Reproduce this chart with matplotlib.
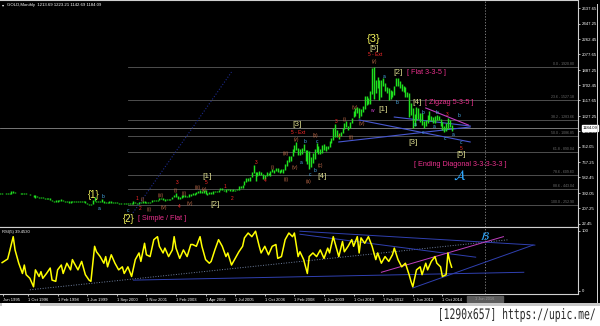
import matplotlib
matplotlib.use('Agg')
import matplotlib.pyplot as plt
from matplotlib.patches import Rectangle, PathPatch
from matplotlib.textpath import TextPath
from matplotlib.transforms import Affine2D
from matplotlib.font_manager import FontProperties

# ---- data, one entry per monthly bar ----
highs = [
    395, 390, 390, 387, 392, 389, 390,                                  # 1995
    418, 416, 401, 398, 394, 391, 388, 390, 388, 386, 383, 373,         # 1996
    368, 365, 356, 348, 348, 346, 337, 331, 333, 334, 313, 299,         # 1997
    310, 305, 304, 316, 306, 300, 298, 293, 301, 300, 298, 296,         # 1998
    294, 290, 290, 291, 290, 266, 263, 259, 302, 339, 300, 293,         # 1999
    292, 315, 296, 289, 279, 294, 292, 281, 280, 279, 274, 270, 275,    # 2000
    272, 268, 268, 266, 266, 294, 278, 274, 279, 283, 294, 293, 282, 280,
    288, 304, 304, 306, 311, 327, 332, 328, 316, 326, 325, 323, 349,
    370, 389, 353, 340, 372, 368, 372, 362, 376, 380, 391, 393, 400, 417,
    428, 418, 430, 429, 396, 403, 409, 416, 419, 420, 431, 456, 456,
    430, 439, 445, 437, 432, 442, 431, 447, 474, 478, 496, 539,
    572, 574, 587, 654, 730, 643, 650, 663, 649, 628, 606, 651, 641,
    657, 689, 672, 695, 692, 668, 682, 679, 747, 795, 845, 842,         # 2007
    932, 976, 1011, 935, 931, 941, 987, 917, 912, 907, 825, 882,        # 2008
    931, 1006, 964, 925, 980, 989, 960, 965, 1023, 1061, 1182, 1226,    # 2009
    1162, 1127, 1134, 1180, 1249, 1265, 1213, 1250, 1310, 1387, 1424, 1432,
    1424, 1412, 1447, 1575, 1577, 1552, 1632, 1913, 1920, 1764, 1804, 1764,
    1764, 1790, 1726, 1676, 1667, 1642, 1631, 1692, 1788, 1796, 1755, 1723,
    1695, 1683, 1617, 1603, 1488, 1424, 1348, 1434, 1424, 1361, 1362, 1267,
    1280, 1345, 1392, 1331, 1315, 1332, 1345, 1323, 1287, 1255, 1207, 1238,
    1307, 1283, 1223.21,
]
lows = [
    383, 381, 379, 381, 381, 382, 385,
    387, 398, 394, 389, 389, 380, 380, 385, 378, 378, 370, 366,
    343, 338, 346, 338, 337, 334, 318, 320, 320, 305, 293, 283,
    278, 289, 292, 299, 292, 288, 287, 272, 273, 289, 289, 284,
    283, 282, 278, 278, 267, 256, 252, 251, 254, 296, 288, 280,
    280, 283, 276, 273, 269, 272, 276, 270, 272, 270, 263, 264, 267,
    262, 255, 255, 255, 258, 261, 266, 264, 265, 270, 271, 276, 272, 271,
    277, 281, 290, 293, 299, 307, 315, 302, 301, 310, 311, 314, 316,
    342, 344, 323, 319, 334, 340, 342, 341, 350, 358, 370, 370, 375, 398,
    399, 391, 393, 380, 373, 386, 387, 386, 400, 405, 410, 424, 426,
    418, 411, 425, 421, 415, 414, 418, 428, 433, 458, 457, 487,
    523, 539, 537, 582, 642, 543, 600, 608, 609, 561, 560, 603, 609,
    603, 647, 636, 662, 651, 641, 643, 641, 670, 722, 775, 782,
    844, 889, 913, 857, 850, 865, 905, 787, 741, 681, 704, 760,
    802, 888, 866, 866, 883, 916, 906, 931, 947, 1003, 1043, 1075,
    1075, 1045, 1087, 1117, 1165, 1196, 1155, 1186, 1242, 1316, 1330, 1360,
    1308, 1323, 1381, 1418, 1462, 1477, 1480, 1600, 1535, 1604, 1668, 1523,
    1562, 1692, 1628, 1614, 1527, 1540, 1564, 1588, 1690, 1697, 1672, 1635,
    1626, 1555, 1562, 1321, 1338, 1180, 1208, 1275, 1293, 1251, 1221, 1186,
    1202, 1240, 1277, 1268, 1240, 1240, 1281, 1280, 1204, 1161, 1131, 1142,
    1167, 1192, 1142.69,
]
last_close = 1184.09

rsi_bar = [2, 5, 6, 8, 9, 11, 13, 14, 15, 17, 19, 20, 22, 23, 24, 26, 28, 29, 31, 32,
           34, 35, 37, 39, 40, 41, 43, 45, 47, 49, 50, 52, 53, 55, 57, 58, 59, 61, 63, 65,
           67, 68, 70, 72, 74, 76, 77, 79, 80, 82, 84, 86, 87, 89, 90, 92, 94, 95, 96, 98,
           100, 102, 104, 105, 107, 109, 110, 112, 114, 115, 117, 119, 121, 123, 124, 126,
           128, 130, 132, 133, 135, 137, 139, 141, 142, 144, 146, 148, 150, 151, 153, 155,
           157, 159, 160, 162, 163, 165, 167, 168, 170, 172, 174, 176, 178, 179, 181, 183,
           184, 186, 187, 189, 191, 192, 194, 195, 196, 198, 200, 202, 204, 205, 207, 209,
           211, 213, 214, 216, 218, 220, 222, 223, 224, 226, 228, 229, 231, 232, 234, 236,
           237, 239, 240, 242, 243, 244, 245]
rsi_val = [47, 53, 65, 90, 68, 46, 29, 43, 27, 21, 7, 35, 24, 32, 21, 29, 38, 18, 16, 35,
           43, 29, 46, 35, 52, 46, 35, 49, 27, 18, 16, 74, 65, 57, 46, 57, 40, 60, 46, 35,
           40, 29, 40, 24, 52, 63, 49, 79, 60, 57, 85, 90, 74, 63, 71, 57, 68, 90, 71, 54,
           68, 57, 77, 77, 74, 90, 74, 52, 46, 49, 68, 85, 74, 57, 63, 43,
           54, 65, 74, 88, 96, 90, 99, 74, 63, 74, 60, 74, 77, 54, 57, 85,
           96, 90, 96, 57, 65, 52, 29, 57, 63, 57, 68, 54, 71, 63, 90, 68,
           57, 82, 65, 74, 85, 74, 90, 63, 88, 79, 90, 74, 52, 63, 46, 57,
           49, 60, 71, 52, 40, 46, 27, 16, 7, 35, 40, 27, 46, 35, 49, 57,
           46, 40, 24, 27, 63, 49, 39.45]

date_labels = ['Jun 1995', '1 Oct 1996', '1 Feb 1998', '1 Jun 1999', '1 Sep 2000',
               '1 Nov 2001', '1 Feb 2003', '1 Apr 2004', '1 Jul 2005', '1 Oct 2006',
               '1 Feb 2008', '1 Jun 2009', '1 Oct 2010', '1 Feb 2012', '1 Jun 2013',
               '1 Oct 2014']
price_ticks = [2637.65, 2447.25, 2262.45, 2077.65, 1887.25, 1702.45, 1517.65, 1327.25,
               1142.45, 952.05, 767.25, 582.45, 392.05, 207.25, 22.45]

fib_levels = [0.0, 23.6, 38.2, 50.0, 61.8, 78.6, 88.6, 100.0]
fib_high, fib_low = 1920.80, 252.90
fib_start_bar = 70

# trendlines drawn on the chart: (bar0, value0, bar1, value1)
price_lines = [
    (70, 65, 126, 1863, '#1c2a8c', ':'),
    (184, 1013, 255, 1195, '#4858d0', '-'),
    (195, 1280, 255, 1013, '#4858d0', '-'),
    (214, 1316, 255, 1207, '#4858d0', '-'),
    (231, 1426, 254, 1219, '#c040c0', '-'),
]
rsi_lines = [
    (17, 2, 276, 85, '#7080a0', ':'),
    (73, 18, 284, 31, '#3040b0', '-'),
    (163, 99, 290, 76, '#3040b0', '-'),
    (163, 94, 258, 56, '#3040b0', '-'),
    (207, 31, 273, 90, '#c040c0', '-'),
    (224, 5, 289, 76, '#3040b0', '-'),
]

# ---- figure ----
W, H = 600, 326
fig = plt.figure(figsize=(6, 3.26), dpi=100, facecolor='black')
FONT = 'Liberation Sans'


def fx(x):
    return x / W


def fy(y):
    return 1 - y / H


ax = fig.add_axes([0, fy(227), fx(578), 227 / H])
rax = fig.add_axes([0, fy(294), fx(578), (294 - 227) / H], sharex=ax)
for a in (ax, rax):
    a.set_facecolor('black')
    for s in a.spines.values():
        s.set_color('#d0d0d0')
        s.set_linewidth(0.8)
    a.spines['left'].set_visible(False)
    a.yaxis.tick_right()
    a.tick_params(axis='y', colors='white', labelsize=3.1, length=1.2, pad=1.5,
                  width=0.5)

bars = list(range(len(highs)))
ax.set_xlim(0.86, 313.3)
ax.set_ylim(-20, 2738)
rax.set_ylim(-5, 106)

# price bars
ax.vlines(bars, lows, highs, color='#1fe01f', linewidth=1.05, zorder=4)

# fibonacci levels
span = fib_high - fib_low
for lv in fib_levels:
    p = fib_high - span * lv / 100
    ax.plot([fib_start_bar, 313.3], [p, p], color='#5a5a5a', lw=0.6, zorder=1)
    ax.text(311, p + 12, f'{lv:.1f} - {p:.2f}', color='#707070', fontsize=2.5,
            ha='right', va='bottom', zorder=2, family=FONT)

# bid line
ax.axhline(last_close, color='#8a8a8a', lw=0.6, zorder=2)

for b0, v0, b1, v1, c, ls in price_lines:
    ax.plot([b0, b1], [v0, v1], color=c, lw=0.8, ls=ls, zorder=3)

ax.set_yticks(price_ticks)
ax.set_yticklabels([f'{t:.2f}' for t in price_ticks], family=FONT)
ax.tick_params(axis='x', bottom=False, labelbottom=False)

# current price box
ax.text(1.008, last_close, f'{last_close:.2f}', transform=ax.get_yaxis_transform(),
        color='black', fontsize=3.1, ha='left', va='center', zorder=10, family=FONT,
        bbox=dict(boxstyle='square,pad=0.2', fc='white', ec='white'), clip_on=False)

# RSI panel
rax.plot(rsi_bar, rsi_val, color='#ffff00', lw=1.1, zorder=4)
for b0, v0, b1, v1, c, ls in rsi_lines:
    rax.plot([b0, b1], [v0, v1], color=c, lw=0.7, ls=ls, zorder=3)
rax.set_yticks([100, 0])
rax.set_yticklabels(['100', '0'], family=FONT)
rax.set_xticks([2.5] + [16 * i for i in range(1, len(date_labels))])
rax.set_xticklabels(date_labels, family=FONT)
rax.tick_params(axis='x', colors='white', labelsize=3.0, length=1.2, pad=1.5,
                width=0.5)
for t in rax.get_xticklabels():
    t.set_ha('left')

# cursor line
for a in (ax, rax):
    a.axvline(263, color='#909090', lw=0.6, ls=(0, (1.5, 2)), zorder=2)

# header texts
fig.text(fx(2), fy(5), '\u25be', color='white', fontsize=3, va='center')
fig.text(fx(7), fy(5), 'GOLD,Monthly  1213.69 1223.21 1142.69 1184.09',
         color='white', fontsize=3.1, va='center', family=FONT)
fig.text(fx(2), fy(232), 'RSI(5) 39.4530', color='white', fontsize=3.0, va='center',
         family=FONT)

# wave labels (pixel positions)
YEL, BRK, MAG = '#f2f25a', '#d8d88c', '#e8308c'
RED, ROM, CYA = '#ff2a2a', '#c8704c', '#4cb0f0'
labels = [
    (94, 195, '{1}', YEL, 7), (129, 219, '{2}', YEL, 7), (374, 39, '{3}', YEL, 8),
    (207, 176, '[1]', BRK, 6), (215, 205, '[2]', BRK, 6), (297, 124, '[3]', BRK, 6),
    (322, 176, '[4]', BRK, 6), (374, 48, '[5]', BRK, 6), (383, 109, '[1]', BRK, 6),
    (398, 72, '[2]', BRK, 6), (413, 143, '[3]', BRK, 6), (417, 102, '[4]', BRK, 6),
    (461, 155, '[5]', BRK, 6),
    (99, 209, 'a', CYA, 3.5), (103, 197, 'b', CYA, 3.5), (128, 211, 'c', CYA, 3.5),
    (301, 162, 'a', CYA, 3.5), (305, 142, 'b', CYA, 3.5), (310, 175, 'c', CYA, 3.5),
    (317, 142, 'c', CYA, 3.5), (315, 170, 'b', CYA, 3.5), (384, 77, 'a', CYA, 3.5),
    (397, 103, 'b', CYA, 3.5), (423, 113, 'b', CYA, 3.5), (415, 124, 'a', CYA, 3.5),
    (423, 133, 'c', CYA, 3.5), (434, 126, 'a', CYA, 3.5), (445, 138, 'c', CYA, 3.5),
    (453, 134, 'a', CYA, 3.5), (461, 143, 'c', CYA, 3.5), (459, 116, 'b', CYA, 3.5),
    (437, 112, 'b', CYA, 3.5),
    (137, 199, '1', RED, 3.5), (140, 209, '2', RED, 3.5), (177, 182, '3', RED, 3.5),
    (179, 207, '4', RED, 3.5), (206, 183, '5', RED, 3.5), (225, 186, '1', RED, 3.5),
    (232, 198, '2', RED, 3.5), (256, 162, '3', RED, 3.5), (265, 180, '4', RED, 3.5),
    (298, 132, '5 - Ext', RED, 3.5), (336, 121, '3', RED, 3.5), (339, 137, '4', RED, 3.5),
    (375, 55, '5 - Ext', RED, 3.5), (447, 115, '3', RED, 3.5), (461, 148, '5', RED, 3.5),
    (143, 199, '(i)', ROM, 3.3), (149, 209, '(ii)', ROM, 3.3), (161, 196, '(iii)', ROM, 3.3),
    (164, 208, '(iv)', ROM, 3.3), (176, 191, '(i)', ROM, 3.3), (184, 193, '(ii)', ROM, 3.3),
    (190, 203, '(iv)', ROM, 3.3), (198, 188, '(iii)', ROM, 3.3), (204, 189, '(v)', ROM, 3.3),
    (273, 167, '(i)', ROM, 3.3), (286, 180, '(ii)', ROM, 3.3), (286, 154, '(iii)', ROM, 3.3),
    (295, 168, '(iv)', ROM, 3.3), (297, 139, '(v)', ROM, 3.3), (309, 182, '(a)', ROM, 3.3),
    (316, 135, '(b)', ROM, 3.3), (320, 165, '(c)', ROM, 3.3), (345, 119, '(i)', ROM, 3.3),
    (351, 137, '(ii)', ROM, 3.3), (362, 124, '(iv)', ROM, 3.3), (374, 61, '(v)', ROM, 3.3),
    (355, 107, '(iv)', ROM, 3.3), (372, 110, 'w', '#d040d0', 3.5),
]
for x, y, s, c, fs in labels:
    fig.text(fx(x), fy(y), s, color=c, fontsize=fs, ha='center', va='center',
             family=FONT, zorder=20)

fig.text(fx(138), fy(219), '[ Simple / Flat ]', color=MAG, fontsize=5.2,
         va='center', family=FONT)
fig.text(fx(407), fy(72), '[ Flat 3-3-5 ]', color=MAG, fontsize=5.2,
         va='center', family=FONT)
fig.text(fx(425), fy(102), '[ Zigzag 5-3-5 ]', color=MAG, fontsize=5.2,
         va='center', family=FONT)
fig.text(fx(460), fy(165), '[ Ending Diagonal 3-3-3-3-3 ]', color=MAG, fontsize=5.2,
         ha='center', va='center', family=FONT)
fig.text(fx(460), fy(176), r'$\mathcal{A}$', color='#30a8ff', fontsize=10,
         ha='center', va='center')
fig.text(fx(485), fy(236), r'$\mathcal{B}$', color='#30a8ff', fontsize=8,
         ha='center', va='center')

# date box under the cursor
fig.patches.append(Rectangle((fx(467), fy(302)), fx(36), 6 / H, transform=fig.transFigure,
                             fc='#5a5a5a', ec='#5a5a5a'))
fig.text(fx(485), fy(299), '1 Jun 2016', color='#9a9a9a', fontsize=2.8,
         ha='center', va='center', family=FONT)

# window borders, scroll bar and bottom strip
fig.patches.append(Rectangle((fx(597), fy(304)), fx(1.2), 300 / H,
                             transform=fig.transFigure, fc='#d0d0d0', ec='none'))
fig.patches.append(Rectangle((0, fy(306)), 1, 3 / H, transform=fig.transFigure,
                             fc='#c8c8c8', ec='none'))
fig.patches.append(Rectangle((fx(2), fy(306)), fx(38), 3 / H, transform=fig.transFigure,
                             fc='white', ec='none'))
fig.patches.append(Rectangle((0, 0), 1, fy(306), transform=fig.transFigure,
                             fc='white', ec='none'))

# watermark text, squeezed to the width it has in the screenshot
tp = TextPath((0, 0), '[1290x657] https://upic.me/', size=10,
              prop=FontProperties(family='DejaVu Sans Mono'))
ext = tp.get_extents()
tr = (Affine2D().translate(-ext.x0, -ext.y0)
      .scale(155 / ext.width, 14 / ext.height).translate(440, 4))
fig.patches.append(PathPatch(tp, transform=tr, fc='#2a2a2a', ec='none'))

fig.savefig('out.png', dpi=100, facecolor='black')
